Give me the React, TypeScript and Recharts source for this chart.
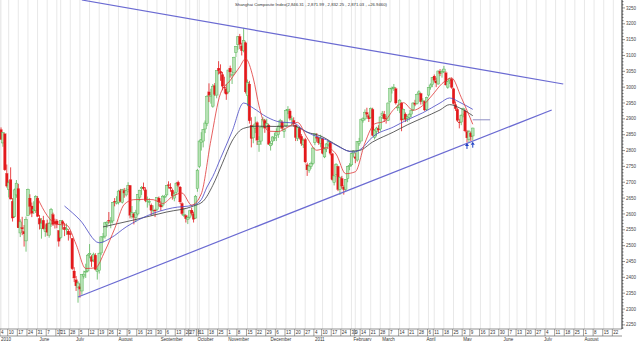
import React from 'react';
import { ComposedChart, Bar, Line, Scatter, XAxis, YAxis, CartesianGrid, ReferenceLine } from 'recharts';

const W = 640;
const H = 341;
const Y_AXIS_W = 18;
const FONT = '"Liberation Sans", Arial, sans-serif';

// ---- categories: trading days of the Shanghai exchange (past + future axis range) ----
const FIRST_DAY = '2010-05-04';
const LAST_DAY = '2011-08-26';
const HOLIDAYS = [
  '2010-06-14', '2010-06-15', '2010-06-16', '2010-09-22', '2010-09-23', '2010-09-24',
  '2010-10-01', '2010-10-04', '2010-10-05', '2010-10-06', '2010-10-07', '2011-01-03',
  '2011-02-02', '2011-02-03', '2011-02-04', '2011-02-07', '2011-02-08', '2011-04-04',
  '2011-04-05', '2011-05-02', '2011-06-06',
];

function tradingDates(): string[] {
  const out: string[] = [];
  const end = Date.parse(LAST_DAY + 'T00:00:00Z');
  for (let t = Date.parse(FIRST_DAY + 'T00:00:00Z'); t <= end; t += 86400000) {
    const d = new Date(t);
    const wd = d.getUTCDay();
    const s = d.toISOString().slice(0, 10);
    if (wd === 0 || wd === 6 || HOLIDAYS.includes(s)) continue;
    out.push(s);
  }
  return out;
}
const DATES = tradingDates();

// ---- daily OHLC (2010-05-04 .. 2011-05-10) ----
const OPEN = [
  2866, 2824, 2853, 2728, 2677, 2708, 2640, 2592, 2660, 2680, 2540, 2557, 2545, 2515, 2595, 2650, 2625, 2610, 2610, 2650,
  2586, 2554, 2580, 2544, 2570, 2533, 2571, 2598, 2576, 2578, 2548, 2526, 2576, 2558, 2550, 2546, 2538, 2523, 2420,
  2392, 2369, 2370, 2357, 2404, 2418, 2420, 2475, 2465, 2455, 2470, 2418, 2422, 2477, 2528, 2530, 2568, 2580, 2575, 2578, 2640, 2634,
  2636, 2673, 2637, 2674, 2660, 2677, 2690, 2592, 2600, 2588, 2600, 2653, 2680, 2685, 2676, 2640, 2637, 2628, 2610, 2612, 2615, 2650,
  2630, 2628, 2655, 2660, 2692, 2685, 2675, 2650, 2668, 2700, 2685, 2633, 2598, 2595, 2583, 2590, 2612, 2600, 2587,
  2680, 2750, 2825, 2830, 2868, 2885, 2985, 2970, 2940, 3005, 2975, 3060, 3050, 3040, 3000, 2995,
  2985, 3060, 3040, 3045, 3110, 3135, 3160, 3130, 3115, 3140, 2973, 3010, 2880, 2840, 2870, 2888, 2820, 2830, 2875, 2895, 2875, 2880,
  2815, 2830, 2838, 2848, 2850, 2880, 2890, 2860, 2878, 2930, 2925, 2900, 2895, 2880, 2838, 2870, 2845, 2818, 2835, 2755, 2738, 2750, 2760,
  2825, 2842, 2840, 2822, 2837, 2780, 2805, 2818, 2825, 2790, 2700, 2725, 2750, 2677, 2712, 2685, 2678, 2712, 2750, 2755,
  2790, 2780, 2770, 2822, 2830, 2895, 2900, 2920, 2910, 2905, 2930, 2842, 2860, 2870, 2868,
  2910, 2915, 2902, 2895, 2955, 2995, 2998, 2995, 2935, 2935, 2950, 2900, 2915, 2902, 2905, 2915, 2930, 2950, 2948, 2980, 2980, 2955, 2955,
  2930, 2975, 3000, 3008, 3035, 3020, 3010, 3050, 3045, 3050, 3045, 3000, 3020, 3025, 2995, 2945, 2930, 2890, 2890,
  2915, 2925, 2860, 2835, 2855, 2846,
];
const HIGH = [
  2873, 2858, 2853, 2756, 2706, 2747, 2650, 2680, 2707, 2695, 2583, 2591, 2565, 2592, 2680, 2662, 2636, 2640, 2659, 2656,
  2597, 2587, 2594, 2567, 2582, 2574, 2619, 2604, 2585, 2584, 2548, 2580, 2581, 2572, 2570, 2552, 2546, 2524, 2432,
  2404, 2388, 2380, 2410, 2421, 2443, 2474, 2505, 2470, 2478, 2476, 2432, 2478, 2529, 2540, 2575, 2578, 2606, 2590, 2638, 2650, 2656,
  2676, 2679, 2679, 2682, 2681, 2700, 2691, 2625, 2603, 2613, 2662, 2676, 2688, 2699, 2684, 2655, 2650, 2633, 2627, 2616, 2653, 2655,
  2640, 2660, 2660, 2690, 2703, 2697, 2680, 2670, 2700, 2705, 2688, 2637, 2618, 2598, 2592, 2611, 2620, 2607, 2660,
  2742, 2832, 2858, 2868, 2895, 2975, 3012, 2995, 3010, 3013, 3052, 3082, 3072, 3048, 3033, 3010,
  3055, 3068, 3050, 3096, 3130, 3161, 3168, 3140, 3187, 3144, 3024, 3020, 2905, 2882, 2907, 2892, 2845, 2876, 2906, 2900, 2900, 2884,
  2830, 2845, 2856, 2870, 2880, 2900, 2895, 2872, 2930, 2940, 2932, 2910, 2905, 2882, 2875, 2875, 2852, 2838, 2840, 2762, 2755, 2765, 2810,
  2853, 2855, 2842, 2850, 2840, 2810, 2823, 2832, 2828, 2792, 2725, 2760, 2752, 2718, 2720, 2690, 2710, 2752, 2760, 2792,
  2800, 2793, 2830, 2840, 2900, 2905, 2930, 2935, 2915, 2936, 2935, 2868, 2875, 2880, 2907,
  2925, 2925, 2910, 2952, 2998, 3002, 3010, 2999, 2945, 2962, 2952, 2932, 2920, 2910, 2918, 2930, 2952, 2960, 2980, 2990, 2982, 2965, 2958,
  2970, 3000, 3012, 3032, 3040, 3030, 3052, 3057, 3055, 3067, 3050, 3020, 3030, 3030, 2998, 2955, 2935, 2900, 2915,
  2935, 2930, 2865, 2865, 2860, 2872,
];
const LOW = [
  2834, 2812, 2736, 2683, 2652, 2646, 2576, 2588, 2651, 2556, 2527, 2533, 2497, 2481, 2595, 2598, 2590, 2600, 2603, 2591,
  2551, 2522, 2551, 2528, 2531, 2525, 2559, 2562, 2554, 2555, 2497, 2520, 2551, 2530, 2534, 2516, 2523, 2423, 2385,
  2357, 2320, 2336, 2345, 2396, 2398, 2416, 2460, 2433, 2448, 2422, 2393, 2412, 2470, 2510, 2522, 2556, 2570, 2555, 2570, 2624, 2630,
  2630, 2637, 2633, 2651, 2655, 2668, 2586, 2585, 2567, 2574, 2595, 2640, 2660, 2674, 2637, 2620, 2627, 2595, 2596, 2590, 2610, 2624,
  2610, 2621, 2638, 2655, 2680, 2670, 2645, 2640, 2660, 2685, 2632, 2596, 2590, 2573, 2568, 2585, 2595, 2573, 2585,
  2670, 2745, 2800, 2810, 2855, 2877, 2953, 2948, 2935, 2972, 2965, 3040, 3020, 2990, 2980, 2960,
  2980, 3030, 3010, 3040, 3095, 3118, 3120, 3100, 3110, 2980, 2940, 2885, 2810, 2823, 2855, 2818, 2796, 2818, 2870, 2856, 2870, 2818,
  2800, 2818, 2830, 2830, 2840, 2870, 2865, 2840, 2875, 2915, 2895, 2880, 2875, 2830, 2830, 2835, 2815, 2808, 2760, 2720, 2730, 2742, 2755,
  2817, 2828, 2818, 2810, 2788, 2776, 2795, 2812, 2785, 2705, 2690, 2718, 2672, 2660, 2680, 2661, 2670, 2700, 2738, 2750,
  2778, 2760, 2765, 2815, 2830, 2888, 2895, 2905, 2890, 2900, 2845, 2835, 2845, 2855, 2860,
  2900, 2890, 2885, 2893, 2950, 2980, 2988, 2945, 2925, 2918, 2861, 2895, 2890, 2890, 2895, 2905, 2925, 2940, 2945, 2975, 2945, 2945, 2925,
  2925, 2970, 2992, 3000, 3015, 3000, 3008, 3035, 3030, 3045, 3005, 2995, 3010, 2995, 2945, 2925, 2890, 2870, 2880,
  2905, 2858, 2825, 2826, 2830, 2832,
];
const CLOSE = [
  2835, 2857, 2739, 2688, 2698, 2647, 2587, 2676, 2697, 2556, 2575, 2553, 2537, 2583, 2677, 2624, 2602, 2614, 2655, 2592,
  2568, 2571, 2553, 2553, 2542, 2569, 2614, 2567, 2569, 2568, 2514, 2580, 2569, 2550, 2553, 2535, 2535, 2427, 2398,
  2373, 2382, 2363, 2409, 2410, 2419, 2470, 2475, 2450, 2473, 2425, 2424, 2476, 2528, 2528, 2572, 2573, 2578, 2576, 2636, 2639, 2638,
  2672, 2640, 2677, 2666, 2673, 2690, 2596, 2604, 2589, 2605, 2661, 2675, 2684, 2680, 2642, 2641, 2639, 2611, 2612, 2611, 2652, 2638,
  2622, 2656, 2655, 2690, 2690, 2680, 2657, 2663, 2697, 2690, 2638, 2601, 2598, 2585, 2589, 2610, 2602, 2583, 2656,
  2738, 2830, 2835, 2866, 2887, 2971, 2974, 2975, 3003, 2977, 3052, 3052, 3043, 3003, 2999, 2978,
  3054, 3048, 3040, 3094, 3129, 3159, 3135, 3115, 3147, 2985, 3014, 2894, 2838, 2875, 2884, 2833, 2829, 2874, 2898, 2871, 2885, 2820,
  2823, 2843, 2842, 2859, 2877, 2895, 2870, 2866, 2927, 2930, 2902, 2900, 2884, 2841, 2872, 2841, 2822, 2832, 2764, 2739, 2751, 2759, 2808,
  2853, 2839, 2824, 2838, 2791, 2805, 2821, 2828, 2791, 2708, 2720, 2757, 2677, 2715, 2688, 2677, 2708, 2749, 2753, 2790,
  2799, 2775, 2828, 2828, 2899, 2900, 2921, 2915, 2900, 2933, 2848, 2863, 2871, 2865, 2906,
  2918, 2900, 2899, 2950, 2995, 2997, 3000, 2950, 2937, 2959, 2896, 2930, 2898, 2906, 2914, 2927, 2950, 2946, 2977, 2985, 2954, 2957, 2928,
  2967, 2999, 3007, 3030, 3022, 3013, 3051, 3043, 3050, 3057, 3007, 3017, 3026, 2999, 2948, 2932, 2895, 2888, 2911,
  2932, 2862, 2840, 2859, 2844, 2871,
];

// ---- moving-average lines: [trading-day number, value] ----
const MA_RED: [number, number][] = [
  [19, 2650], [24, 2595], [29, 2567], [34, 2565], [39, 2504], [44, 2428], [49, 2430], [54, 2483], [59, 2553],
  [64, 2630], [69, 2645], [74, 2646], [79, 2645], [84, 2633], [89, 2655], [94, 2666], [99, 2628], [104, 2663],
  [109, 2832], [114, 2980], [119, 3021], [124, 3064], [127, 3090], [131, 3029], [134, 2941], [139, 2861],
  [144, 2860], [149, 2874], [154, 2889], [159, 2840], [164, 2801], [169, 2809], [174, 2789], [179, 2727],
  [184, 2733], [189, 2824], [194, 2884], [199, 2892], [204, 2930], [209, 2951], [214, 2927], [219, 2942],
  [224, 2975], [229, 3011], [234, 3029], [239, 2968], [245, 2883],
];
const MA_BLUE: [number, number][] = [
  [33, 2625], [41, 2581], [51, 2509], [57, 2524], [65, 2559], [77, 2597], [89, 2619], [100, 2628], [104, 2645],
  [107, 2685], [110, 2718], [114, 2775], [120, 2860], [126, 2950], [131, 2934], [138, 2906], [145, 2890],
  [152, 2887], [157, 2865], [162, 2849], [169, 2834], [176, 2810], [183, 2795], [187, 2805], [193, 2843],
  [204, 2875], [211, 2897], [219, 2919], [228, 2950], [233, 2966], [238, 2953], [245, 2930],
];
const MA_DARK: [number, number][] = [
  [53, 2559], [69, 2581], [86, 2606], [100, 2625], [105, 2640], [110, 2690], [115, 2760], [120, 2830],
  [126, 2870], [133, 2877], [143, 2876], [152, 2878], [159, 2858], [166, 2846], [175, 2815], [181, 2798],
  [186, 2800], [193, 2827], [204, 2859], [211, 2881], [219, 2903], [228, 2928], [233, 2945], [238, 2935], [245, 2910],
];

// ---- drawn annotations: [trading-day number, value] ----
const TREND_UPPER: [number, number][] = [[42, 3275], [292, 3010]];
const TREND_LOWER: [number, number][] = [[40, 2338], [286, 2928]];
const FLAT_LINE: [number, number][] = [[245, 2897], [254, 2897]];
const ARROWS: [number, number][] = [[242, 2824], [245, 2828]];

const TITLE = 'Shanghai Composite Index(2,846.31 , 2,871.99 , 2,832.25 , 2,871.03 , +26.9460)';
const MONTH_NAMES = ['January', 'February', 'March', 'April', 'May', 'June', 'July', 'August', 'September', 'October', 'November', 'December'];
const Y_MIN = 2237;
const Y_MAX = 3275;
const Y_TICKS: number[] = [];
for (let v = 2240; v <= 3270; v += 10) Y_TICKS.push(v);

// ---- build table ----
const dayNum = (s: string) => Math.floor(Date.parse(s + 'T00:00:00Z') / 86400000);
const weekOf = (s: string) => Math.floor((dayNum(s) + 3) / 7);
const DAY_TICKS = DATES.filter((d, i) => i === 0 || weekOf(d) !== weekOf(DATES[i - 1]));
const MONTH_TICKS = DATES.filter((d, i) => i === 0 || d.slice(0, 7) !== DATES[i - 1].slice(0, 7));

type Row = { date: string; o: number | null; h: number | null; l: number | null; c: number | null; red: number | null; blue: number | null; dark: number | null; arrow: number | null };
const rows: Row[] = DATES.map((date, i) => ({
  date,
  o: OPEN[i] ?? null, h: HIGH[i] ?? null, l: LOW[i] ?? null, c: CLOSE[i] ?? null,
  red: null, blue: null, dark: null, arrow: null,
}));
MA_RED.forEach(([i, v]) => { if (rows[i]) rows[i].red = v; });
MA_BLUE.forEach(([i, v]) => { if (rows[i]) rows[i].blue = v; });
MA_DARK.forEach(([i, v]) => { if (rows[i]) rows[i].dark = v; });
ARROWS.forEach(([i, v]) => { if (rows[i]) rows[i].arrow = v; });

const seg = (p: [number, number][]) => p.map(([i, v]) => ({ x: DATES[i], y: v }));

const BAND = (W - Y_AXIS_W) / DATES.length;
const UP_FILL = '#b6e2b4';
const UP_EDGE = '#58b558';
const DOWN = '#e3191c';
const TREND = '#6a6ad2';

function Candle(props: any) {
  const { x, y, width, height, payload } = props;
  if (!payload || payload.h == null || !isFinite(y) || !isFinite(height)) return null;
  const { o, h, l, c } = payload;
  const top = Math.min(y, y + height);
  const bot = Math.max(y, y + height);
  const span = h - l;
  const k = span > 0 ? (bot - top) / span : 0;
  const yo = top + (h - o) * k;
  const yc = top + (h - c) * k;
  const cx = x + width / 2;
  const up = c >= o;
  const bw = 2.6;
  const bTop = Math.min(yo, yc);
  const bH = Math.max(Math.abs(yo - yc), 0.8);
  return (
    <g>
      <line x1={cx} x2={cx} y1={top} y2={bot} stroke={up ? UP_EDGE : DOWN} strokeWidth={0.8} />
      <rect x={cx - bw / 2} y={bTop} width={bw} height={bH} fill={up ? UP_FILL : DOWN}
        stroke={up ? UP_EDGE : DOWN} strokeWidth={up ? 0.5 : 0.2} />
    </g>
  );
}

function Arrow(props: any) {
  const { cx, cy, payload } = props;
  if (!payload || payload.arrow == null || !isFinite(cy)) return null;
  return (
    <g>
      <path d={`M${cx},${cy} L${cx - 2},${cy + 3} L${cx + 2},${cy + 3} Z`} fill="#1d3fc4" />
      <line x1={cx} x2={cx} y1={cy + 3} y2={cy + 6} stroke="#1d3fc4" strokeWidth={1} />
    </g>
  );
}

function DayTick(props: any) {
  const { x, y, payload } = props;
  const xl = x - BAND / 2;
  return (
    <g>
      <line x1={xl} x2={xl} y1={y} y2={y + 7} stroke="#666" strokeWidth={0.6} />
      <text x={xl + 1} y={y + 5.3} fontSize={4.5} fill="#333" fontFamily={FONT}>{Number(String(payload.value).slice(8))}</text>
    </g>
  );
}

function MonthTick(props: any) {
  const { x, y, payload } = props;
  const s = String(payload.value);
  const m = Number(s.slice(5, 7));
  const idx = DATES.indexOf(s);
  const label = idx === 0 || m === 1 ? s.slice(0, 4) : MONTH_NAMES[m - 1];
  const xl = x - BAND / 2;
  return (
    <text x={xl + 1} y={y + 4.6} fontSize={4.5} fill="#333" fontFamily={FONT}>{label}</text>
  );
}

function YTick(props: any) {
  const { x, y, payload } = props;
  const v = payload.value as number;
  const major = v % 50 === 0;
  return (
    <g>
      <line x1={x} x2={x + (major ? 3 : 1.6)} y1={y} y2={y} stroke="#222" strokeWidth={0.5} />
      {major && (
        <text x={x + 4} y={y + 1.6} fontSize={4.5} fill="#444" fontFamily={FONT}>{v}</text>
      )}
    </g>
  );
}

export default function App() {
  return (
    <div style={{ position: 'absolute', left: 0, top: 0, width: W, height: H, background: '#fff', overflow: 'hidden' }}>
      <ComposedChart width={W} height={H} data={rows} margin={{ top: 0, right: 0, bottom: 0, left: 0 }} barCategoryGap={0} barGap={0}>
        <CartesianGrid horizontal={false} stroke="#e2e2e2" strokeWidth={0.8} />
        <XAxis dataKey="date" type="category" ticks={DAY_TICKS} interval={0} height={7} tickSize={0} tickMargin={0}
          tickLine={false} axisLine={{ stroke: '#666', strokeWidth: 0.7 }} tick={DayTick} />
        <XAxis xAxisId="m" dataKey="date" type="category" ticks={MONTH_TICKS} interval={0} height={5} tickSize={0} tickMargin={0}
          tickLine={false} axisLine={{ stroke: '#666', strokeWidth: 0.7 }} tick={MonthTick} />
        <YAxis orientation="right" type="number" width={Y_AXIS_W} domain={[Y_MIN, Y_MAX]} allowDataOverflow
          ticks={Y_TICKS} interval={0} tickSize={0} tickMargin={0} tickLine={false}
          axisLine={{ stroke: '#000', strokeWidth: 0.8 }} tick={YTick} />
        <Bar dataKey={(d: Row) => (d.h == null ? null : [d.l, d.h])} shape={Candle} isAnimationActive={false} />
        <Line dataKey="dark" stroke="#3a3a3a" strokeWidth={0.8} dot={false} connectNulls type="monotone" isAnimationActive={false} />
        <Line dataKey="blue" stroke="#4646c4" strokeWidth={0.8} dot={false} connectNulls type="monotone" isAnimationActive={false} />
        <Line dataKey="red" stroke="#e03636" strokeWidth={0.8} dot={false} connectNulls type="monotone" isAnimationActive={false} />
        <ReferenceLine segment={seg(TREND_UPPER)} stroke={TREND} strokeWidth={1.2} ifOverflow="visible" />
        <ReferenceLine segment={seg(TREND_LOWER)} stroke={TREND} strokeWidth={1.2} ifOverflow="visible" />
        <ReferenceLine segment={seg(FLAT_LINE)} stroke="#8c8cc4" strokeWidth={1} ifOverflow="visible" />
        <Scatter dataKey="arrow" shape={Arrow} isAnimationActive={false} />
      </ComposedChart>
      <svg width={W} height={10} style={{ position: 'absolute', left: 0, top: 0, pointerEvents: 'none' }}>
        <text x={235} y={5.6} fontSize={4.4} fill="#333" fontFamily={FONT} textLength={152} lengthAdjust="spacingAndGlyphs">{TITLE}</text>
      </svg>
    </div>
  );
}
